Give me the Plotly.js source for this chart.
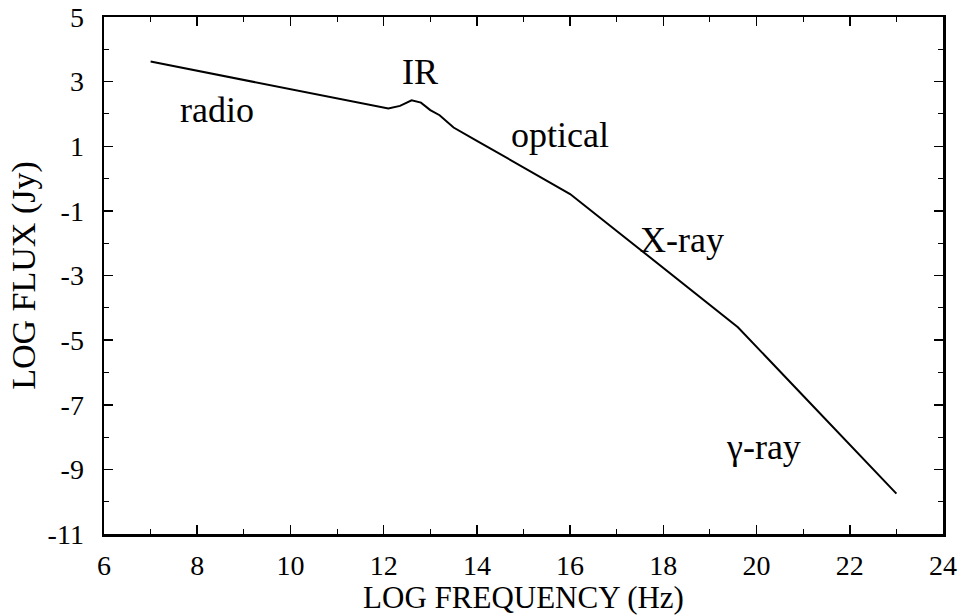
<!DOCTYPE html>
<html>
<head>
<meta charset="utf-8">
<script src="https://cdn.plot.ly/plotly-3.0.1.min.js"></script>
<style>html,body{margin:0;padding:0;background:#fff;}#chart{width:963px;height:615px;}</style>
</head>
<body>
<div id="chart"></div>
<script>
// Spectrum (log frequency in Hz vs log flux in Jy)
var logFreq = [7, 12.1, 12.35, 12.6, 12.8, 13.0, 13.2, 13.5, 14, 15, 16, 17, 18, 19.6, 21, 23];
var logFlux = [3.62, 2.17, 2.25, 2.42, 2.35, 2.12, 1.96, 1.58, 1.17, 0.35, -0.48, -1.62, -2.76, -4.6, -6.72, -9.75];

var bandLabels = ["radio", "IR", "optical", "X-ray", "\u03b3-ray"];
var bandX = [8.43, 12.78, 15.79, 18.4, 20.14];
var bandY = [2.12, 3.31, 1.35, -1.9, -8.3];

var xTickVals = [6, 8, 10, 12, 14, 16, 18, 20, 22, 24];
var xTickText = ["6", "8", "10", "12", "14", "16", "18", "20", "22", "24"];
var yTickVals = [5, 3, 1, -1, -3, -5, -7, -9, -11];
var yTickText = ["5", "3", "1", "-1", "-3", "-5", "-7", "-9", "-11"];

var serif = "Liberation Serif, Times New Roman, serif";

var trace = {
  x: logFreq, y: logFlux, type: "scatter", mode: "lines",
  line: {color: "#000", width: 2}, hoverinfo: "skip", cliponaxis: false
};

var annotations = bandLabels.map(function (t, i) {
  return {x: bandX[i], y: bandY[i], xref: "x", yref: "y", text: t, showarrow: false,
          font: {family: serif, size: 36, color: "#000"}};
});

var axisCommon = {
  showline: true, linewidth: 2.5, linecolor: "#000", mirror: "allticks",
  ticks: "inside", ticklen: 9, tickwidth: 1.5, tickcolor: "#000",
  showgrid: false, zeroline: false, tickmode: "array", ticklabeloverflow: "allow",
  tickfont: {family: serif, size: 28, color: "#000"}
};

var layout = {
  width: 963, height: 615,
  margin: {l: 104, r: 20, t: 17, b: 81},
  paper_bgcolor: "#fff", plot_bgcolor: "#fff",
  showlegend: false,
  xaxis: Object.assign({}, axisCommon, {
    range: [6, 24], tickvals: xTickVals, ticktext: xTickText, ticklabelstandoff: 5,
    minor: {dtick: 1, tick0: 6, ticks: "inside", ticklen: 5, tickcolor: "#000", tickwidth: 1},
    title: {text: "LOG FREQUENCY (Hz)", font: {family: serif, size: 31, color: "#000"}, standoff: 3}
  }),
  yaxis: Object.assign({}, axisCommon, {
    range: [-11, 5], tickvals: yTickVals, ticktext: yTickText, ticklabelstandoff: 12,
    minor: {dtick: 1, tick0: -11, ticks: "inside", ticklen: 5, tickcolor: "#000", tickwidth: 1},
    title: {text: "LOG FLUX (Jy)", font: {family: serif, size: 34, color: "#000"}, standoff: 2}
  }),
  annotations: annotations
};

Plotly.newPlot("chart", [trace], layout, {staticPlot: true, displayModeBar: false});
</script>
</body>
</html>
